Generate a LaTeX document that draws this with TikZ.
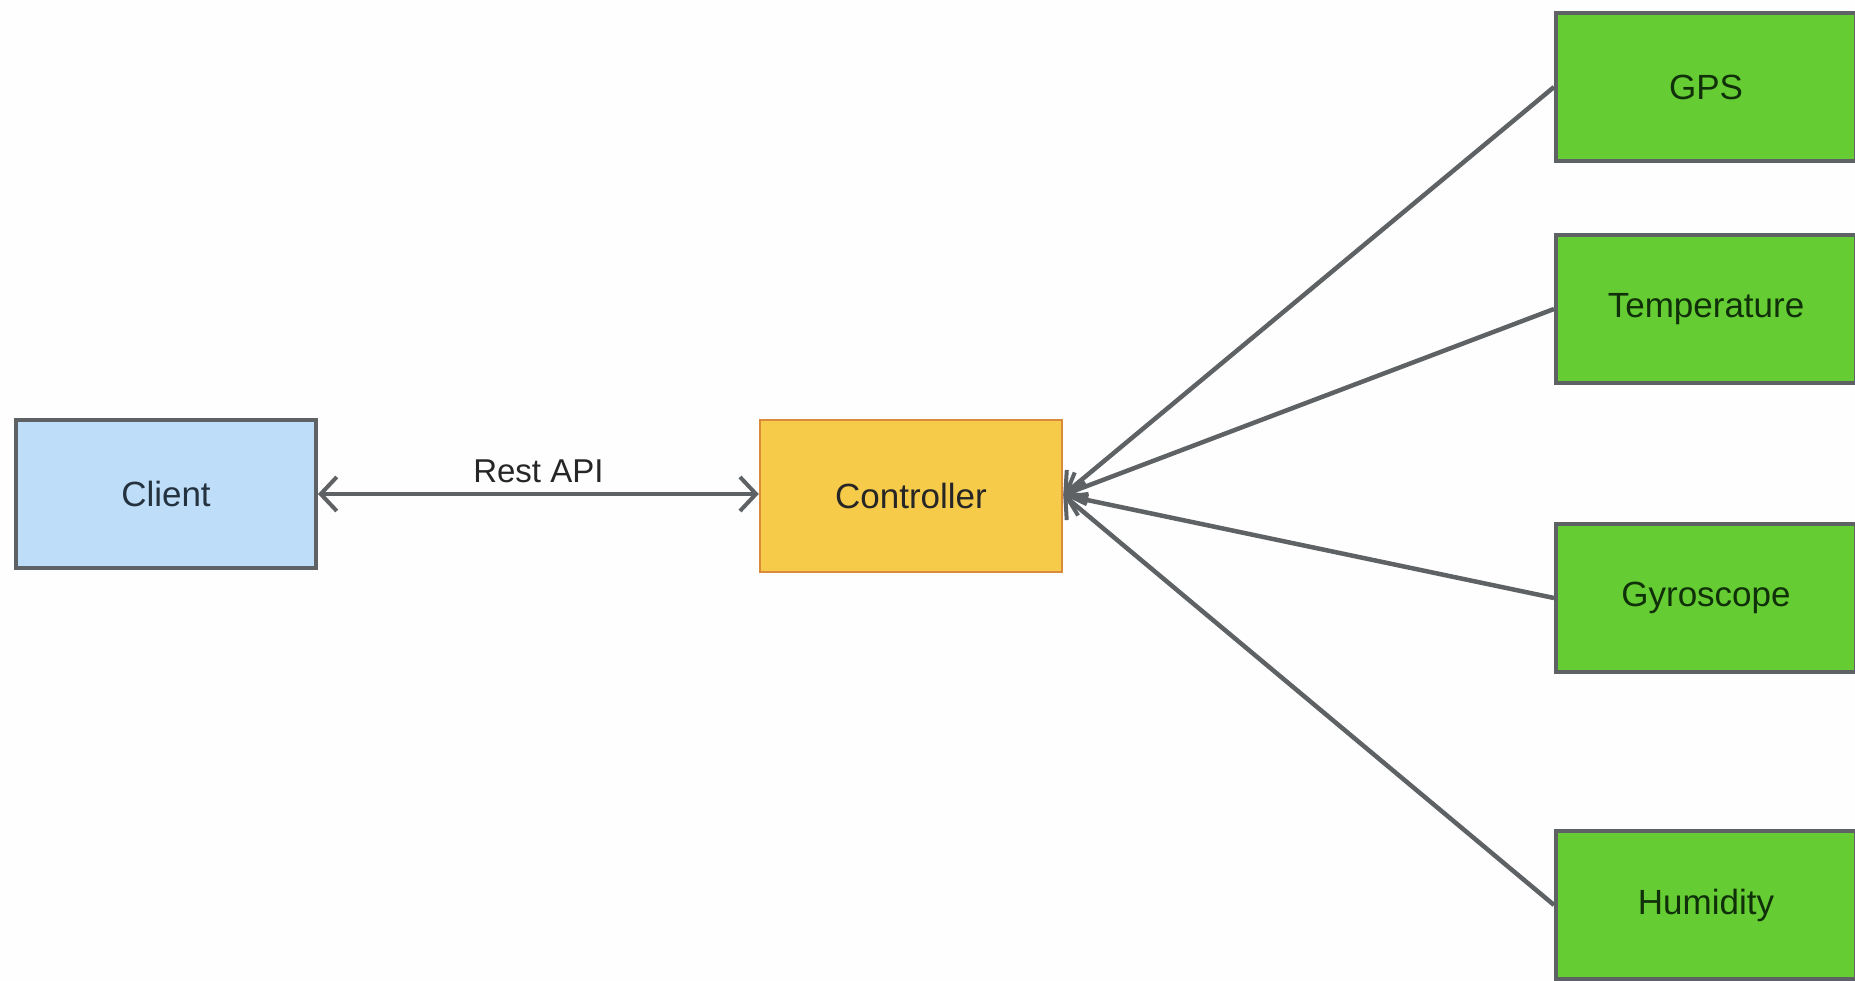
\documentclass[tikz,border=0pt]{standalone}
\usepackage{fontspec}
\setmainfont{Liberation Sans}
\usetikzlibrary{arrows.meta}
\definecolor{edgegray}{HTML}{5E6264}
\definecolor{clientfill}{HTML}{BDDDF8}
\definecolor{ctrlfill}{HTML}{F7CB4A}
\definecolor{ctrledge}{HTML}{D98A3A}
\definecolor{sensorfill}{HTML}{66CC33}
\definecolor{clienttext}{HTML}{24323F}
\definecolor{sensortext}{HTML}{10300A}
\tikzset{
  box/.style={draw=edgegray, line width=4pt, minimum width=300pt, minimum height=148pt,
    inner sep=0pt, font=\fontsize{35}{40}\selectfont},
  clientbox/.style={box, fill=clientfill, text=clienttext},
  ctrlbox/.style={box, fill=ctrlfill, draw=ctrledge, line width=2.5pt, text=black!85},
  sensorbox/.style={box, fill=sensorfill, text=sensortext},
  link/.style={draw=edgegray, line width=4.5pt},
  tip/.tip={Straight Barb[length=16pt, width=34pt, line width=4pt]}
}
\begin{document}
\begin{tikzpicture}[x=1pt, y=-1pt]
  \fill[white!99!gray] (0,0) rectangle (1855,981);
  \useasboundingbox (0,0) rectangle (1855,981);

  \node[clientbox] (client) at (166,494) {Client};
  \node[ctrlbox, minimum width=302pt, minimum height=152pt] (ctrl) at (911,496) {Controller};

  \node[sensorbox] (gps)  at (1706,87)  {GPS};
  \node[sensorbox] (temp) at (1706,309) {Temperature};
  \node[sensorbox] (gyro) at (1706,598) {Gyroscope};
  \node[sensorbox] (hum)  at (1706,905) {Humidity};

  % two-way REST link, kept horizontal
  \draw[link, {tip}-{tip}] (client.east) -- node[above=6pt, font=\fontsize{33}{38}\selectfont, text=black!85] {Rest API} (client.east -| ctrl.west);

  % every sensor reports into the same point on the controller
  \coordinate (hub) at ([yshift=1pt]ctrl.east);
  \draw[link, -{tip}] (gps.west)  -- (hub);
  \draw[link, -{tip}] (temp.west) -- (hub);
  \draw[link, -{tip}] (gyro.west) -- (hub);
  \draw[link, -{tip}] (hum.west)  -- (hub);
\end{tikzpicture}
\end{document}
